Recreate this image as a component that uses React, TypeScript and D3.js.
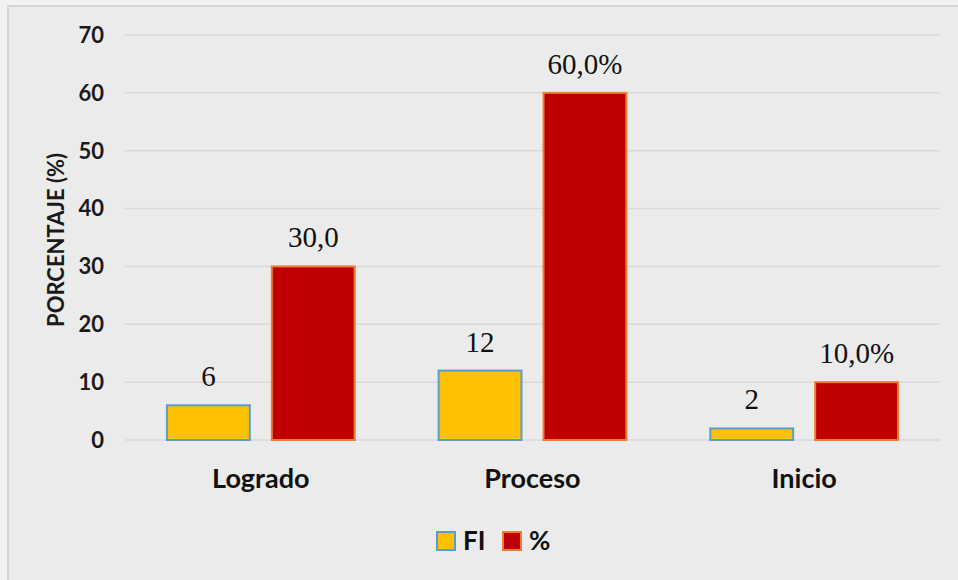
import React from 'react'
import * as d3 from 'd3'

const categories = ['Logrado', 'Proceso', 'Inicio']
const seriesKeys = ['FI', '%']
const fiValues = [6, 12, 2]
const pctValues = [30, 60, 10]
const fiLabels = ['6', '12', '2']
const pctLabels = ['30,0', '60,0%', '10,0%']
const yTicks = [0, 10, 20, 30, 40, 50, 60, 70]

const fills: Record<string, string> = { FI: '#FFC000', '%': '#C00000' }
const strokes: Record<string, string> = { FI: '#5B9BD5', '%': '#ED7D31' }

const W = 958
const H = 580
const margin = { top: 35, right: 18, bottom: 140, left: 125 }

const sans = 'Lato, "Open Sans", sans-serif'
const serif = '"Liberation Serif", "Times New Roman", serif'

export default function App() {
  const x0 = d3.scaleBand<string>()
    .domain(categories)
    .range([margin.left, W - margin.right])
    .paddingInner(0)
    .paddingOuter(0)

  const x1 = d3.scaleBand<string>()
    .domain(seriesKeys)
    .range([0, x0.bandwidth()])
    .paddingInner(0.21)
    .paddingOuter(0.4)

  const y = d3.scaleLinear()
    .domain([0, 70])
    .range([H - margin.bottom, margin.top])

  const rows = categories.map((c, i) => ({
    cat: c,
    bars: [
      { key: 'FI', value: fiValues[i], label: fiLabels[i] },
      { key: '%', value: pctValues[i], label: pctLabels[i] },
    ],
  }))

  return (
    <div style={{ position: 'absolute', left: 0, top: 0 }}>
      <svg width={W} height={H} style={{ display: 'block' }}>
        <rect x={0} y={0} width={W} height={H} fill="#F2F2F2" />
        <rect x={8} y={6} width={W} height={H} fill="#EBEBEB" stroke="#D6D6D6" strokeWidth={2} />

        {/* grid + y ticks */}
        {yTicks.map((t) => (
          <g key={t}>
            <line
              x1={margin.left}
              x2={W - margin.right}
              y1={y(t)}
              y2={y(t)}
              stroke="#D9D9D9"
              strokeWidth={1.5}
            />
            <text
              x={104}
              y={y(t)}
              dy="0.36em"
              textAnchor="end"
              fontFamily={sans}
              fontWeight={700}
              fontSize={22}
              fill="#1a1a1a"
            >
              {t}
            </text>
          </g>
        ))}

        <text
          transform={`translate(64,240) rotate(-90)`}
          textAnchor="middle"
          fontFamily={sans}
          fontWeight={700}
          fontSize={22}
          fill="#1a1a1a"
        >
          PORCENTAJE (%)
        </text>

        {rows.map((row) => (
          <g key={row.cat} transform={`translate(${x0(row.cat)},0)`}>
            {row.bars.map((b) => (
              <g key={b.key}>
                <rect
                  x={x1(b.key)}
                  y={y(b.value)}
                  width={x1.bandwidth()}
                  height={y(0) - y(b.value)}
                  fill={fills[b.key]}
                  stroke={strokes[b.key]}
                  strokeWidth={2}
                />
                <text
                  x={(x1(b.key) ?? 0) + x1.bandwidth() / 2}
                  y={y(b.value) - 19}
                  textAnchor="middle"
                  fontFamily={serif}
                  fontSize={29}
                  fill="#111"
                >
                  {b.label}
                </text>
              </g>
            ))}
            <text
              x={x0.bandwidth() / 2}
              y={488}
              textAnchor="middle"
              fontFamily={sans}
              fontWeight={700}
              fontSize={27}
              fill="#111"
            >
              {row.cat}
            </text>
          </g>
        ))}

        {/* legend */}
        {seriesKeys.map((k, i) => {
          const lx = [437, 503][i]
          return (
            <g key={k}>
              <rect x={lx} y={532} width={18} height={18} fill={fills[k]} stroke={strokes[k]} strokeWidth={2} />
              <text
                x={lx + 26}
                y={550}
                fontFamily={sans}
                fontWeight={700}
                fontSize={26}
                fill="#111"
              >
                {k}
              </text>
            </g>
          )
        })}
      </svg>
    </div>
  )
}
